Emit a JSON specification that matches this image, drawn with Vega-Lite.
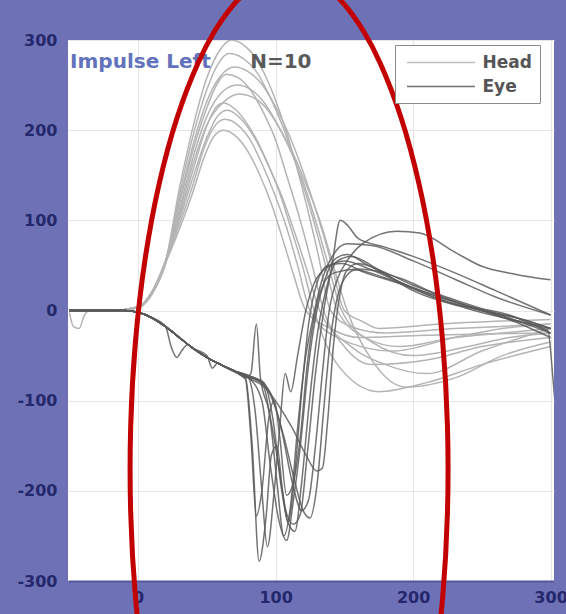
{
  "$schema": "https://vega.github.io/schema/vega-lite/v6.json",
  "width": 486,
  "height": 541,
  "autosize": {"type": "none"},
  "padding": {"left": 68, "top": 40, "right": 12, "bottom": 33},
  "background": "#6f71b7",
  "config": {
    "view": {"stroke": null, "fill": "white"},
    "axis": {"labelFont": "DejaVu Sans", "labelFontWeight": "bold", "labelFontSize": 16, "labelColor": "#24276c", "grid": true, "gridColor": "#e6e6e6", "gridWidth": 1, "ticks": false, "domain": false, "labelExpr": "'' + datum.value"},
    "axisX": {"labelPadding": 8, "labelFlush": false, "domain": true, "domainColor": "#55579a", "domainWidth": 2},
    "axisY": {"labelPadding": 11},
    "legend": {"labelFont": "DejaVu Sans", "labelFontWeight": "bold", "labelFontSize": 17, "labelColor": "#555555"}
  },
  "datasets": {
    "tr": [
      {"s":"Head","k":"H1","x":-50,"y":0},{"s":"Head","k":"H1","x":-20,"y":0},{"s":"Head","k":"H1","x":0,"y":4},{"s":"Head","k":"H1","x":10,"y":20},{"s":"Head","k":"H1","x":20,"y":55},{"s":"Head","k":"H1","x":30,"y":135},{"s":"Head","k":"H1","x":40,"y":204},{"s":"Head","k":"H1","x":50,"y":258},{"s":"Head","k":"H1","x":60,"y":290},{"s":"Head","k":"H1","x":68,"y":300},{"s":"Head","k":"H1","x":78,"y":293},{"s":"Head","k":"H1","x":86,"y":279},{"s":"Head","k":"H1","x":95,"y":252},{"s":"Head","k":"H1","x":104,"y":216},{"s":"Head","k":"H1","x":113,"y":172},{"s":"Head","k":"H1","x":122,"y":120},{"s":"Head","k":"H1","x":131,"y":62},{"s":"Head","k":"H1","x":140,"y":0},{"s":"Head","k":"H1","x":155,"y":-18},{"s":"Head","k":"H1","x":180,"y":-25},{"s":"Head","k":"H1","x":230,"y":-20},{"s":"Head","k":"H1","x":260,"y":-18},{"s":"Head","k":"H1","x":300,"y":-15},
      {"s":"Head","k":"H2","x":-50,"y":0},{"s":"Head","k":"H2","x":-20,"y":0},{"s":"Head","k":"H2","x":0,"y":3},{"s":"Head","k":"H2","x":10,"y":18},{"s":"Head","k":"H2","x":20,"y":52},{"s":"Head","k":"H2","x":30,"y":128},{"s":"Head","k":"H2","x":40,"y":194},{"s":"Head","k":"H2","x":50,"y":245},{"s":"Head","k":"H2","x":58,"y":273},{"s":"Head","k":"H2","x":66,"y":285},{"s":"Head","k":"H2","x":76,"y":280},{"s":"Head","k":"H2","x":86,"y":265},{"s":"Head","k":"H2","x":95,"y":240},{"s":"Head","k":"H2","x":105,"y":205},{"s":"Head","k":"H2","x":115,"y":162},{"s":"Head","k":"H2","x":125,"y":114},{"s":"Head","k":"H2","x":135,"y":58},{"s":"Head","k":"H2","x":145,"y":0},{"s":"Head","k":"H2","x":165,"y":-30},{"s":"Head","k":"H2","x":190,"y":-40},{"s":"Head","k":"H2","x":230,"y":-30},{"s":"Head","k":"H2","x":265,"y":-25},{"s":"Head","k":"H2","x":300,"y":-20},
      {"s":"Head","k":"H3","x":-50,"y":-2},{"s":"Head","k":"H3","x":-47,"y":-18},{"s":"Head","k":"H3","x":-43,"y":-20},{"s":"Head","k":"H3","x":-39,"y":-5},{"s":"Head","k":"H3","x":-35,"y":0},{"s":"Head","k":"H3","x":-10,"y":0},{"s":"Head","k":"H3","x":0,"y":4},{"s":"Head","k":"H3","x":10,"y":20},{"s":"Head","k":"H3","x":20,"y":54},{"s":"Head","k":"H3","x":30,"y":122},{"s":"Head","k":"H3","x":40,"y":184},{"s":"Head","k":"H3","x":50,"y":232},{"s":"Head","k":"H3","x":60,"y":260},{"s":"Head","k":"H3","x":70,"y":270},{"s":"Head","k":"H3","x":80,"y":265},{"s":"Head","k":"H3","x":90,"y":251},{"s":"Head","k":"H3","x":100,"y":226},{"s":"Head","k":"H3","x":110,"y":194},{"s":"Head","k":"H3","x":120,"y":154},{"s":"Head","k":"H3","x":130,"y":108},{"s":"Head","k":"H3","x":140,"y":56},{"s":"Head","k":"H3","x":150,"y":0},{"s":"Head","k":"H3","x":163,"y":-12},{"s":"Head","k":"H3","x":175,"y":-20},{"s":"Head","k":"H3","x":220,"y":-15},{"s":"Head","k":"H3","x":260,"y":-12},{"s":"Head","k":"H3","x":300,"y":-10},
      {"s":"Head","k":"H4","x":-50,"y":0},{"s":"Head","k":"H4","x":-20,"y":0},{"s":"Head","k":"H4","x":0,"y":4},{"s":"Head","k":"H4","x":10,"y":20},{"s":"Head","k":"H4","x":20,"y":55},{"s":"Head","k":"H4","x":30,"y":118},{"s":"Head","k":"H4","x":40,"y":178},{"s":"Head","k":"H4","x":50,"y":225},{"s":"Head","k":"H4","x":57,"y":250},{"s":"Head","k":"H4","x":64,"y":262},{"s":"Head","k":"H4","x":73,"y":258},{"s":"Head","k":"H4","x":82,"y":244},{"s":"Head","k":"H4","x":91,"y":220},{"s":"Head","k":"H4","x":100,"y":189},{"s":"Head","k":"H4","x":108,"y":150},{"s":"Head","k":"H4","x":117,"y":105},{"s":"Head","k":"H4","x":126,"y":54},{"s":"Head","k":"H4","x":135,"y":0},{"s":"Head","k":"H4","x":150,"y":-40},{"s":"Head","k":"H4","x":170,"y":-60},{"s":"Head","k":"H4","x":210,"y":-55},{"s":"Head","k":"H4","x":250,"y":-40},{"s":"Head","k":"H4","x":300,"y":-30},
      {"s":"Head","k":"H5","x":-50,"y":0},{"s":"Head","k":"H5","x":-20,"y":0},{"s":"Head","k":"H5","x":0,"y":3},{"s":"Head","k":"H5","x":10,"y":19},{"s":"Head","k":"H5","x":20,"y":53},{"s":"Head","k":"H5","x":30,"y":112},{"s":"Head","k":"H5","x":40,"y":170},{"s":"Head","k":"H5","x":50,"y":215},{"s":"Head","k":"H5","x":61,"y":242},{"s":"Head","k":"H5","x":72,"y":250},{"s":"Head","k":"H5","x":82,"y":245},{"s":"Head","k":"H5","x":91,"y":232},{"s":"Head","k":"H5","x":100,"y":210},{"s":"Head","k":"H5","x":110,"y":180},{"s":"Head","k":"H5","x":120,"y":143},{"s":"Head","k":"H5","x":129,"y":100},{"s":"Head","k":"H5","x":138,"y":52},{"s":"Head","k":"H5","x":148,"y":0},{"s":"Head","k":"H5","x":170,"y":-35},{"s":"Head","k":"H5","x":200,"y":-50},{"s":"Head","k":"H5","x":240,"y":-40},{"s":"Head","k":"H5","x":270,"y":-30},{"s":"Head","k":"H5","x":300,"y":-25},
      {"s":"Head","k":"H6","x":-50,"y":0},{"s":"Head","k":"H6","x":-20,"y":0},{"s":"Head","k":"H6","x":0,"y":3},{"s":"Head","k":"H6","x":10,"y":18},{"s":"Head","k":"H6","x":20,"y":52},{"s":"Head","k":"H6","x":30,"y":108},{"s":"Head","k":"H6","x":40,"y":163},{"s":"Head","k":"H6","x":50,"y":206},{"s":"Head","k":"H6","x":62,"y":231},{"s":"Head","k":"H6","x":74,"y":240},{"s":"Head","k":"H6","x":84,"y":236},{"s":"Head","k":"H6","x":94,"y":223},{"s":"Head","k":"H6","x":103,"y":202},{"s":"Head","k":"H6","x":113,"y":173},{"s":"Head","k":"H6","x":123,"y":137},{"s":"Head","k":"H6","x":133,"y":96},{"s":"Head","k":"H6","x":142,"y":50},{"s":"Head","k":"H6","x":152,"y":0},{"s":"Head","k":"H6","x":170,"y":-55},{"s":"Head","k":"H6","x":195,"y":-85},{"s":"Head","k":"H6","x":230,"y":-75},{"s":"Head","k":"H6","x":265,"y":-50},{"s":"Head","k":"H6","x":300,"y":-35},
      {"s":"Head","k":"H7","x":-50,"y":0},{"s":"Head","k":"H7","x":-20,"y":0},{"s":"Head","k":"H7","x":0,"y":4},{"s":"Head","k":"H7","x":10,"y":21},{"s":"Head","k":"H7","x":20,"y":56},{"s":"Head","k":"H7","x":30,"y":104},{"s":"Head","k":"H7","x":40,"y":156},{"s":"Head","k":"H7","x":50,"y":205},{"s":"Head","k":"H7","x":57,"y":226},{"s":"Head","k":"H7","x":62,"y":230},{"s":"Head","k":"H7","x":70,"y":224},{"s":"Head","k":"H7","x":78,"y":210},{"s":"Head","k":"H7","x":86,"y":190},{"s":"Head","k":"H7","x":94,"y":164},{"s":"Head","k":"H7","x":103,"y":130},{"s":"Head","k":"H7","x":111,"y":92},{"s":"Head","k":"H7","x":120,"y":47},{"s":"Head","k":"H7","x":128,"y":0},{"s":"Head","k":"H7","x":145,"y":-60},{"s":"Head","k":"H7","x":175,"y":-90},{"s":"Head","k":"H7","x":210,"y":-80},{"s":"Head","k":"H7","x":250,"y":-60},{"s":"Head","k":"H7","x":300,"y":-40},
      {"s":"Head","k":"H8","x":-50,"y":0},{"s":"Head","k":"H8","x":-20,"y":0},{"s":"Head","k":"H8","x":0,"y":4},{"s":"Head","k":"H8","x":10,"y":20},{"s":"Head","k":"H8","x":20,"y":55},{"s":"Head","k":"H8","x":30,"y":100},{"s":"Head","k":"H8","x":40,"y":148},{"s":"Head","k":"H8","x":50,"y":192},{"s":"Head","k":"H8","x":58,"y":216},{"s":"Head","k":"H8","x":65,"y":222},{"s":"Head","k":"H8","x":75,"y":212},{"s":"Head","k":"H8","x":86,"y":188},{"s":"Head","k":"H8","x":95,"y":160},{"s":"Head","k":"H8","x":105,"y":125},{"s":"Head","k":"H8","x":114,"y":86},{"s":"Head","k":"H8","x":123,"y":44},{"s":"Head","k":"H8","x":132,"y":0},{"s":"Head","k":"H8","x":155,"y":-40},{"s":"Head","k":"H8","x":180,"y":-60},{"s":"Head","k":"H8","x":210,"y":-70},{"s":"Head","k":"H8","x":250,"y":-45},{"s":"Head","k":"H8","x":300,"y":-20},
      {"s":"Head","k":"H9","x":-50,"y":0},{"s":"Head","k":"H9","x":-20,"y":0},{"s":"Head","k":"H9","x":0,"y":4},{"s":"Head","k":"H9","x":10,"y":20},{"s":"Head","k":"H9","x":20,"y":54},{"s":"Head","k":"H9","x":30,"y":95},{"s":"Head","k":"H9","x":40,"y":140},{"s":"Head","k":"H9","x":48,"y":180},{"s":"Head","k":"H9","x":56,"y":205},{"s":"Head","k":"H9","x":63,"y":212},{"s":"Head","k":"H9","x":73,"y":205},{"s":"Head","k":"H9","x":82,"y":188},{"s":"Head","k":"H9","x":90,"y":163},{"s":"Head","k":"H9","x":99,"y":130},{"s":"Head","k":"H9","x":108,"y":92},{"s":"Head","k":"H9","x":116,"y":50},{"s":"Head","k":"H9","x":125,"y":0},{"s":"Head","k":"H9","x":145,"y":-30},{"s":"Head","k":"H9","x":185,"y":-45},{"s":"Head","k":"H9","x":230,"y":-30},{"s":"Head","k":"H9","x":265,"y":-20},{"s":"Head","k":"H9","x":300,"y":-15},
      {"s":"Head","k":"H10","x":-50,"y":0},{"s":"Head","k":"H10","x":-20,"y":0},{"s":"Head","k":"H10","x":0,"y":4},{"s":"Head","k":"H10","x":10,"y":20},{"s":"Head","k":"H10","x":20,"y":53},{"s":"Head","k":"H10","x":30,"y":90},{"s":"Head","k":"H10","x":40,"y":132},{"s":"Head","k":"H10","x":48,"y":170},{"s":"Head","k":"H10","x":55,"y":193},{"s":"Head","k":"H10","x":62,"y":200},{"s":"Head","k":"H10","x":72,"y":192},{"s":"Head","k":"H10","x":80,"y":176},{"s":"Head","k":"H10","x":88,"y":152},{"s":"Head","k":"H10","x":97,"y":118},{"s":"Head","k":"H10","x":105,"y":80},{"s":"Head","k":"H10","x":113,"y":40},{"s":"Head","k":"H10","x":122,"y":0},{"s":"Head","k":"H10","x":140,"y":-20},{"s":"Head","k":"H10","x":160,"y":-30},{"s":"Head","k":"H10","x":200,"y":-28},{"s":"Head","k":"H10","x":250,"y":-26},{"s":"Head","k":"H10","x":300,"y":-25},

      {"s":"Eye","k":"E1","x":-50,"y":0},{"s":"Eye","k":"E1","x":-30,"y":0},{"s":"Eye","k":"E1","x":-10,"y":0},{"s":"Eye","k":"E1","x":0,"y":-2},{"s":"Eye","k":"E1","x":10,"y":-8},{"s":"Eye","k":"E1","x":20,"y":-18},{"s":"Eye","k":"E1","x":30,"y":-30},{"s":"Eye","k":"E1","x":40,"y":-42},{"s":"Eye","k":"E1","x":50,"y":-52},{"s":"Eye","k":"E1","x":60,"y":-60},{"s":"Eye","k":"E1","x":70,"y":-67},{"s":"Eye","k":"E1","x":78,"y":-74},{"s":"Eye","k":"E1","x":83,"y":-150},{"s":"Eye","k":"E1","x":88,"y":-278},{"s":"Eye","k":"E1","x":93,"y":-230},{"s":"Eye","k":"E1","x":97,"y":-160},{"s":"Eye","k":"E1","x":101,"y":-150},{"s":"Eye","k":"E1","x":105,"y":-200},{"s":"Eye","k":"E1","x":109,"y":-235},{"s":"Eye","k":"E1","x":114,"y":-180},{"s":"Eye","k":"E1","x":119,"y":-90},{"s":"Eye","k":"E1","x":124,"y":-15},{"s":"Eye","k":"E1","x":130,"y":30},{"s":"Eye","k":"E1","x":138,"y":50},{"s":"Eye","k":"E1","x":148,"y":52},{"s":"Eye","k":"E1","x":165,"y":42},{"s":"Eye","k":"E1","x":190,"y":30},{"s":"Eye","k":"E1","x":220,"y":12},{"s":"Eye","k":"E1","x":250,"y":0},{"s":"Eye","k":"E1","x":275,"y":-8},{"s":"Eye","k":"E1","x":300,"y":-20},
      {"s":"Eye","k":"E2","x":-50,"y":0},{"s":"Eye","k":"E2","x":-30,"y":0},{"s":"Eye","k":"E2","x":-10,"y":0},{"s":"Eye","k":"E2","x":0,"y":-2},{"s":"Eye","k":"E2","x":10,"y":-8},{"s":"Eye","k":"E2","x":20,"y":-18},{"s":"Eye","k":"E2","x":30,"y":-30},{"s":"Eye","k":"E2","x":40,"y":-42},{"s":"Eye","k":"E2","x":50,"y":-52},{"s":"Eye","k":"E2","x":60,"y":-60},{"s":"Eye","k":"E2","x":70,"y":-67},{"s":"Eye","k":"E2","x":80,"y":-74},{"s":"Eye","k":"E2","x":85,"y":-110},{"s":"Eye","k":"E2","x":90,"y":-200},{"s":"Eye","k":"E2","x":94,"y":-262},{"s":"Eye","k":"E2","x":99,"y":-200},{"s":"Eye","k":"E2","x":103,"y":-130},{"s":"Eye","k":"E2","x":107,"y":-70},{"s":"Eye","k":"E2","x":111,"y":-90},{"s":"Eye","k":"E2","x":116,"y":-50},{"s":"Eye","k":"E2","x":122,"y":0},{"s":"Eye","k":"E2","x":128,"y":30},{"s":"Eye","k":"E2","x":138,"y":48},{"s":"Eye","k":"E2","x":150,"y":55},{"s":"Eye","k":"E2","x":170,"y":45},{"s":"Eye","k":"E2","x":200,"y":25},{"s":"Eye","k":"E2","x":240,"y":5},{"s":"Eye","k":"E2","x":270,"y":-5},{"s":"Eye","k":"E2","x":300,"y":-25},
      {"s":"Eye","k":"E3","x":-50,"y":0},{"s":"Eye","k":"E3","x":-30,"y":0},{"s":"Eye","k":"E3","x":-10,"y":0},{"s":"Eye","k":"E3","x":0,"y":-2},{"s":"Eye","k":"E3","x":10,"y":-8},{"s":"Eye","k":"E3","x":20,"y":-18},{"s":"Eye","k":"E3","x":24,"y":-40},{"s":"Eye","k":"E3","x":28,"y":-52},{"s":"Eye","k":"E3","x":32,"y":-44},{"s":"Eye","k":"E3","x":36,"y":-38},{"s":"Eye","k":"E3","x":40,"y":-42},{"s":"Eye","k":"E3","x":50,"y":-52},{"s":"Eye","k":"E3","x":60,"y":-60},{"s":"Eye","k":"E3","x":70,"y":-67},{"s":"Eye","k":"E3","x":80,"y":-74},{"s":"Eye","k":"E3","x":90,"y":-100},{"s":"Eye","k":"E3","x":96,"y":-170},{"s":"Eye","k":"E3","x":102,"y":-230},{"s":"Eye","k":"E3","x":108,"y":-255},{"s":"Eye","k":"E3","x":113,"y":-210},{"s":"Eye","k":"E3","x":118,"y":-150},{"s":"Eye","k":"E3","x":124,"y":-60},{"s":"Eye","k":"E3","x":130,"y":0},{"s":"Eye","k":"E3","x":136,"y":35},{"s":"Eye","k":"E3","x":144,"y":58},{"s":"Eye","k":"E3","x":152,"y":62},{"s":"Eye","k":"E3","x":165,"y":52},{"s":"Eye","k":"E3","x":190,"y":32},{"s":"Eye","k":"E3","x":220,"y":12},{"s":"Eye","k":"E3","x":250,"y":0},{"s":"Eye","k":"E3","x":280,"y":-10},{"s":"Eye","k":"E3","x":300,"y":-20},
      {"s":"Eye","k":"E4","x":-50,"y":0},{"s":"Eye","k":"E4","x":-30,"y":0},{"s":"Eye","k":"E4","x":-10,"y":0},{"s":"Eye","k":"E4","x":0,"y":-2},{"s":"Eye","k":"E4","x":10,"y":-8},{"s":"Eye","k":"E4","x":20,"y":-18},{"s":"Eye","k":"E4","x":30,"y":-30},{"s":"Eye","k":"E4","x":40,"y":-42},{"s":"Eye","k":"E4","x":50,"y":-52},{"s":"Eye","k":"E4","x":60,"y":-60},{"s":"Eye","k":"E4","x":70,"y":-67},{"s":"Eye","k":"E4","x":80,"y":-72},{"s":"Eye","k":"E4","x":92,"y":-82},{"s":"Eye","k":"E4","x":98,"y":-120},{"s":"Eye","k":"E4","x":104,"y":-195},{"s":"Eye","k":"E4","x":109,"y":-235},{"s":"Eye","k":"E4","x":114,"y":-245},{"s":"Eye","k":"E4","x":119,"y":-190},{"s":"Eye","k":"E4","x":124,"y":-110},{"s":"Eye","k":"E4","x":130,"y":-30},{"s":"Eye","k":"E4","x":137,"y":25},{"s":"Eye","k":"E4","x":145,"y":55},{"s":"Eye","k":"E4","x":155,"y":60},{"s":"Eye","k":"E4","x":175,"y":45},{"s":"Eye","k":"E4","x":200,"y":22},{"s":"Eye","k":"E4","x":240,"y":2},{"s":"Eye","k":"E4","x":270,"y":-10},{"s":"Eye","k":"E4","x":298,"y":-22},{"s":"Eye","k":"E4","x":302,"y":-80},{"s":"Eye","k":"E4","x":306,"y":-150},
      {"s":"Eye","k":"E5","x":-50,"y":0},{"s":"Eye","k":"E5","x":-30,"y":0},{"s":"Eye","k":"E5","x":-10,"y":0},{"s":"Eye","k":"E5","x":0,"y":-2},{"s":"Eye","k":"E5","x":10,"y":-8},{"s":"Eye","k":"E5","x":20,"y":-18},{"s":"Eye","k":"E5","x":30,"y":-30},{"s":"Eye","k":"E5","x":40,"y":-42},{"s":"Eye","k":"E5","x":50,"y":-52},{"s":"Eye","k":"E5","x":60,"y":-60},{"s":"Eye","k":"E5","x":70,"y":-67},{"s":"Eye","k":"E5","x":78,"y":-74},{"s":"Eye","k":"E5","x":82,"y":-70},{"s":"Eye","k":"E5","x":86,"y":-15},{"s":"Eye","k":"E5","x":89,"y":-75},{"s":"Eye","k":"E5","x":95,"y":-110},{"s":"Eye","k":"E5","x":102,"y":-170},{"s":"Eye","k":"E5","x":108,"y":-225},{"s":"Eye","k":"E5","x":113,"y":-237},{"s":"Eye","k":"E5","x":118,"y":-226},{"s":"Eye","k":"E5","x":123,"y":-160},{"s":"Eye","k":"E5","x":129,"y":-70},{"s":"Eye","k":"E5","x":135,"y":0},{"s":"Eye","k":"E5","x":141,"y":50},{"s":"Eye","k":"E5","x":147,"y":100},{"s":"Eye","k":"E5","x":152,"y":95},{"s":"Eye","k":"E5","x":160,"y":80},{"s":"Eye","k":"E5","x":180,"y":70},{"s":"Eye","k":"E5","x":200,"y":60},{"s":"Eye","k":"E5","x":230,"y":42},{"s":"Eye","k":"E5","x":260,"y":22},{"s":"Eye","k":"E5","x":300,"y":-5},
      {"s":"Eye","k":"E6","x":-50,"y":0},{"s":"Eye","k":"E6","x":-30,"y":0},{"s":"Eye","k":"E6","x":-10,"y":0},{"s":"Eye","k":"E6","x":0,"y":-2},{"s":"Eye","k":"E6","x":10,"y":-8},{"s":"Eye","k":"E6","x":20,"y":-18},{"s":"Eye","k":"E6","x":30,"y":-30},{"s":"Eye","k":"E6","x":40,"y":-42},{"s":"Eye","k":"E6","x":50,"y":-52},{"s":"Eye","k":"E6","x":60,"y":-60},{"s":"Eye","k":"E6","x":70,"y":-67},{"s":"Eye","k":"E6","x":80,"y":-73},{"s":"Eye","k":"E6","x":95,"y":-88},{"s":"Eye","k":"E6","x":104,"y":-130},{"s":"Eye","k":"E6","x":112,"y":-190},{"s":"Eye","k":"E6","x":119,"y":-222},{"s":"Eye","k":"E6","x":124,"y":-210},{"s":"Eye","k":"E6","x":129,"y":-150},{"s":"Eye","k":"E6","x":134,"y":-70},{"s":"Eye","k":"E6","x":139,"y":0},{"s":"Eye","k":"E6","x":145,"y":35},{"s":"Eye","k":"E6","x":152,"y":55},{"s":"Eye","k":"E6","x":164,"y":75},{"s":"Eye","k":"E6","x":188,"y":88},{"s":"Eye","k":"E6","x":205,"y":86},{"s":"Eye","k":"E6","x":230,"y":65},{"s":"Eye","k":"E6","x":250,"y":49},{"s":"Eye","k":"E6","x":275,"y":40},{"s":"Eye","k":"E6","x":300,"y":34},
      {"s":"Eye","k":"E7","x":-50,"y":0},{"s":"Eye","k":"E7","x":-30,"y":0},{"s":"Eye","k":"E7","x":-10,"y":0},{"s":"Eye","k":"E7","x":0,"y":-2},{"s":"Eye","k":"E7","x":10,"y":-8},{"s":"Eye","k":"E7","x":20,"y":-18},{"s":"Eye","k":"E7","x":30,"y":-30},{"s":"Eye","k":"E7","x":40,"y":-42},{"s":"Eye","k":"E7","x":50,"y":-52},{"s":"Eye","k":"E7","x":60,"y":-60},{"s":"Eye","k":"E7","x":70,"y":-67},{"s":"Eye","k":"E7","x":80,"y":-75},{"s":"Eye","k":"E7","x":92,"y":-85},{"s":"Eye","k":"E7","x":102,"y":-105},{"s":"Eye","k":"E7","x":112,"y":-130},{"s":"Eye","k":"E7","x":122,"y":-160},{"s":"Eye","k":"E7","x":130,"y":-178},{"s":"Eye","k":"E7","x":134,"y":-175},{"s":"Eye","k":"E7","x":138,"y":-120},{"s":"Eye","k":"E7","x":142,"y":-40},{"s":"Eye","k":"E7","x":147,"y":20},{"s":"Eye","k":"E7","x":152,"y":45},{"s":"Eye","k":"E7","x":160,"y":52},{"s":"Eye","k":"E7","x":180,"y":42},{"s":"Eye","k":"E7","x":200,"y":28},{"s":"Eye","k":"E7","x":230,"y":12},{"s":"Eye","k":"E7","x":260,"y":-3},{"s":"Eye","k":"E7","x":300,"y":-25},
      {"s":"Eye","k":"E8","x":-50,"y":0},{"s":"Eye","k":"E8","x":-30,"y":0},{"s":"Eye","k":"E8","x":-10,"y":0},{"s":"Eye","k":"E8","x":0,"y":-2},{"s":"Eye","k":"E8","x":10,"y":-8},{"s":"Eye","k":"E8","x":20,"y":-18},{"s":"Eye","k":"E8","x":30,"y":-30},{"s":"Eye","k":"E8","x":40,"y":-42},{"s":"Eye","k":"E8","x":50,"y":-50},{"s":"Eye","k":"E8","x":54,"y":-64},{"s":"Eye","k":"E8","x":58,"y":-58},{"s":"Eye","k":"E8","x":62,"y":-62},{"s":"Eye","k":"E8","x":70,"y":-68},{"s":"Eye","k":"E8","x":78,"y":-76},{"s":"Eye","k":"E8","x":82,"y":-140},{"s":"Eye","k":"E8","x":86,"y":-228},{"s":"Eye","k":"E8","x":90,"y":-200},{"s":"Eye","k":"E8","x":95,"y":-120},{"s":"Eye","k":"E8","x":99,"y":-100},{"s":"Eye","k":"E8","x":103,"y":-140},{"s":"Eye","k":"E8","x":108,"y":-205},{"s":"Eye","k":"E8","x":113,"y":-190},{"s":"Eye","k":"E8","x":118,"y":-140},{"s":"Eye","k":"E8","x":123,"y":-60},{"s":"Eye","k":"E8","x":129,"y":0},{"s":"Eye","k":"E8","x":135,"y":30},{"s":"Eye","k":"E8","x":143,"y":42},{"s":"Eye","k":"E8","x":160,"y":46},{"s":"Eye","k":"E8","x":190,"y":36},{"s":"Eye","k":"E8","x":220,"y":16},{"s":"Eye","k":"E8","x":260,"y":-5},{"s":"Eye","k":"E8","x":300,"y":-20},
      {"s":"Eye","k":"E9","x":-50,"y":0},{"s":"Eye","k":"E9","x":-30,"y":0},{"s":"Eye","k":"E9","x":-10,"y":0},{"s":"Eye","k":"E9","x":0,"y":-2},{"s":"Eye","k":"E9","x":10,"y":-8},{"s":"Eye","k":"E9","x":20,"y":-18},{"s":"Eye","k":"E9","x":30,"y":-30},{"s":"Eye","k":"E9","x":40,"y":-42},{"s":"Eye","k":"E9","x":50,"y":-52},{"s":"Eye","k":"E9","x":60,"y":-60},{"s":"Eye","k":"E9","x":70,"y":-67},{"s":"Eye","k":"E9","x":80,"y":-72},{"s":"Eye","k":"E9","x":90,"y":-80},{"s":"Eye","k":"E9","x":96,"y":-120},{"s":"Eye","k":"E9","x":101,"y":-190},{"s":"Eye","k":"E9","x":106,"y":-250},{"s":"Eye","k":"E9","x":111,"y":-215},{"s":"Eye","k":"E9","x":116,"y":-130},{"s":"Eye","k":"E9","x":121,"y":-60},{"s":"Eye","k":"E9","x":127,"y":-10},{"s":"Eye","k":"E9","x":133,"y":30},{"s":"Eye","k":"E9","x":142,"y":62},{"s":"Eye","k":"E9","x":152,"y":74},{"s":"Eye","k":"E9","x":170,"y":72},{"s":"Eye","k":"E9","x":200,"y":55},{"s":"Eye","k":"E9","x":230,"y":35},{"s":"Eye","k":"E9","x":260,"y":15},{"s":"Eye","k":"E9","x":300,"y":-5},
      {"s":"Eye","k":"E10","x":-50,"y":0},{"s":"Eye","k":"E10","x":-30,"y":0},{"s":"Eye","k":"E10","x":-10,"y":0},{"s":"Eye","k":"E10","x":0,"y":-2},{"s":"Eye","k":"E10","x":10,"y":-8},{"s":"Eye","k":"E10","x":20,"y":-18},{"s":"Eye","k":"E10","x":30,"y":-30},{"s":"Eye","k":"E10","x":40,"y":-42},{"s":"Eye","k":"E10","x":50,"y":-52},{"s":"Eye","k":"E10","x":60,"y":-60},{"s":"Eye","k":"E10","x":70,"y":-67},{"s":"Eye","k":"E10","x":80,"y":-74},{"s":"Eye","k":"E10","x":90,"y":-78},{"s":"Eye","k":"E10","x":98,"y":-100},{"s":"Eye","k":"E10","x":106,"y":-140},{"s":"Eye","k":"E10","x":114,"y":-190},{"s":"Eye","k":"E10","x":120,"y":-222},{"s":"Eye","k":"E10","x":125,"y":-230},{"s":"Eye","k":"E10","x":130,"y":-195},{"s":"Eye","k":"E10","x":135,"y":-110},{"s":"Eye","k":"E10","x":140,"y":-30},{"s":"Eye","k":"E10","x":145,"y":15},{"s":"Eye","k":"E10","x":150,"y":35},{"s":"Eye","k":"E10","x":158,"y":45},{"s":"Eye","k":"E10","x":180,"y":36},{"s":"Eye","k":"E10","x":210,"y":20},{"s":"Eye","k":"E10","x":240,"y":5},{"s":"Eye","k":"E10","x":270,"y":-10},{"s":"Eye","k":"E10","x":300,"y":-30}
    ],
    "el": [
      {"o":1,"x":214.6,"y":-408.8},{"o":2,"x":221.5,"y":-318.7},{"o":3,"x":225.0,"y":-224.3},{"o":4,"x":225.0,"y":-128.3},{"o":5,"x":221.5,"y":-33.9},{"o":6,"x":214.6,"y":56.2},{"o":7,"x":204.5,"y":139.2},{"o":8,"x":191.5,"y":212.7},{"o":9,"x":176.1,"y":274.3},{"o":10,"x":164.1,"y":309.4},{"o":11,"x":151.2,"y":337.3},{"o":12,"x":139.7,"y":355.1},{"o":13,"x":129.9,"y":365.4},{"o":14,"x":119.9,"y":371.7},{"o":15,"x":109.8,"y":373.8},{"o":16,"x":99.7,"y":371.7},{"o":17,"x":89.7,"y":365.4},{"o":18,"x":79.9,"y":355.1},{"o":19,"x":68.4,"y":337.3},{"o":20,"x":55.5,"y":309.4},{"o":21,"x":43.5,"y":274.3},{"o":22,"x":28.1,"y":212.7},{"o":23,"x":15.1,"y":139.2},{"o":24,"x":5.0,"y":56.2},{"o":25,"x":-1.9,"y":-33.9},{"o":26,"x":-5.4,"y":-128.3},{"o":27,"x":-5.4,"y":-224.3},{"o":28,"x":-1.9,"y":-318.7},{"o":29,"x":5.0,"y":-408.8}
    ],
    "lbl": [
      {"t":"Impulse Left","x":-49.5,"y":275.5,"g":"title"},
      {"t":"N=10","x":81.5,"y":275.5,"g":"n"}
    ]
  },
  "encoding": {
    "x": {"field": "x", "type": "quantitative", "title": null, "scale": {"domain": [-51, 302.5], "nice": false, "zero": false}, "axis": {"values": [0, 100, 200, 300]}},
    "y": {"field": "y", "type": "quantitative", "title": null, "scale": {"domain": [-300, 300], "nice": false, "zero": false}, "axis": {"values": [-300, -200, -100, 0, 100, 200, 300]}}
  },
  "layer": [
    {
      "data": {"name": "tr"},
      "transform": [{"filter": "datum.s === 'Head'"}],
      "mark": {"type": "line", "clip": true, "strokeWidth": 1.5, "interpolate": "monotone"},
      "encoding": {
        "color": {
          "field": "s", "type": "nominal",
          "scale": {"domain": ["Head", "Eye"], "range": ["#b4b4b4", "#5a5a5a"]},
          "legend": {"orient": "none", "legendX": 327, "legendY": 5, "title": null, "fillColor": "white", "strokeColor": "#8c8c8c", "padding": 8, "symbolType": "M-4,0H4", "symbolSize": 289, "symbolStrokeWidth": 1.6, "rowPadding": 6, "symbolOffset": 28.5, "labelOffset": 32, "cornerRadius": 0}
        },
        "detail": {"field": "k"}
      }
    },
    {
      "data": {"name": "tr"},
      "transform": [{"filter": "datum.s === 'Eye'"}],
      "mark": {"type": "line", "clip": true, "strokeWidth": 1.5, "opacity": 0.85, "interpolate": "monotone"},
      "encoding": {
        "color": {"field": "s", "type": "nominal", "scale": {"domain": ["Head", "Eye"], "range": ["#b4b4b4", "#5a5a5a"]}},
        "detail": {"field": "k"}
      }
    },
    {
      "data": {"name": "lbl"},
      "transform": [{"filter": "datum.g === 'title'"}],
      "mark": {"type": "text", "align": "left", "baseline": "middle", "font": "DejaVu Sans", "fontWeight": "bold", "fontSize": 20, "color": "#6272bc"},
      "encoding": {"text": {"field": "t"}}
    },
    {
      "data": {"name": "lbl"},
      "transform": [{"filter": "datum.g === 'n'"}],
      "mark": {"type": "text", "align": "left", "baseline": "middle", "font": "DejaVu Sans", "fontWeight": "bold", "fontSize": 20, "color": "#5a5a5a"},
      "encoding": {"text": {"field": "t"}}
    },
    {
      "data": {"name": "el"},
      "mark": {"type": "line", "clip": false, "color": "#c20000", "strokeWidth": 5, "interpolate": "catmull-rom"},
      "encoding": {"order": {"field": "o", "type": "quantitative"}}
    }
  ]
}
